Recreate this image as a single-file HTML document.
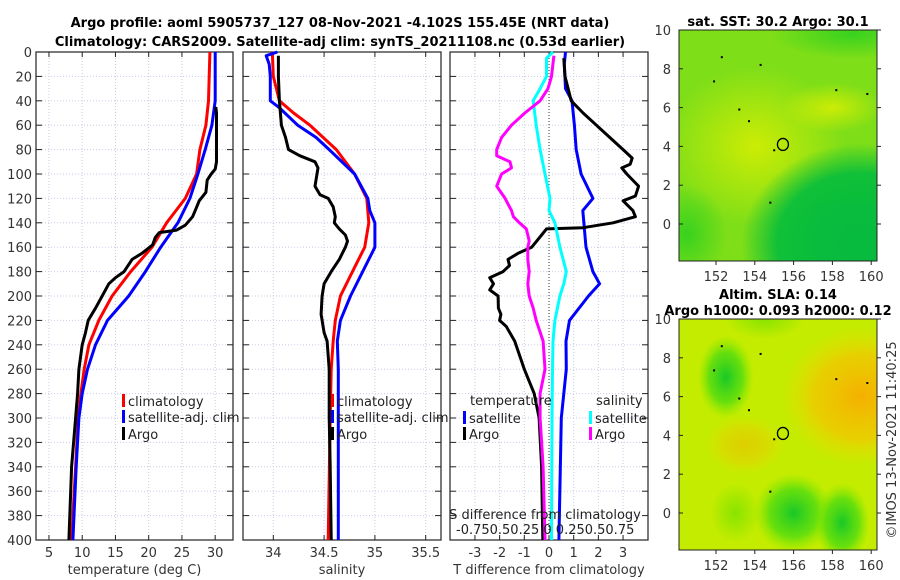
<!DOCTYPE html>
<html><head><meta charset="utf-8"><style>
html,body{margin:0;padding:0;background:#fff;}
svg{display:block;font-family:"DejaVu Sans","Liberation Sans",sans-serif;}
</style></head><body>
<svg id="fig" width="900" height="580" viewBox="0 0 900 580" xmlns="http://www.w3.org/2000/svg">
<defs>
<radialGradient id="g1a" cx="0.5" cy="0.5" r="0.5"><stop offset="0" stop-color="#e0f000" stop-opacity="0.8"/><stop offset="1" stop-color="#e0f000" stop-opacity="0"/></radialGradient>
<radialGradient id="g1b" cx="0.5" cy="0.5" r="0.5"><stop offset="0" stop-color="#00b840"/><stop offset="0.7" stop-color="#10c038"/><stop offset="1" stop-color="#10c038" stop-opacity="0"/></radialGradient>
<radialGradient id="g1c" cx="0.5" cy="0.5" r="0.5"><stop offset="0" stop-color="#30d020" stop-opacity="0.9"/><stop offset="1" stop-color="#30d020" stop-opacity="0"/></radialGradient>
<radialGradient id="g2o" cx="0.5" cy="0.5" r="0.5"><stop offset="0" stop-color="#f5b000"/><stop offset="0.6" stop-color="#f0c800" stop-opacity="0.8"/><stop offset="1" stop-color="#e8e000" stop-opacity="0"/></radialGradient>
<radialGradient id="g2g" cx="0.5" cy="0.5" r="0.5"><stop offset="0" stop-color="#18c828"/><stop offset="0.6" stop-color="#50dc10" stop-opacity="0.8"/><stop offset="1" stop-color="#80e800" stop-opacity="0"/></radialGradient>
<radialGradient id="g2y" cx="0.5" cy="0.5" r="0.5"><stop offset="0" stop-color="#88e400"/><stop offset="1" stop-color="#88e400" stop-opacity="0"/></radialGradient>
</defs>
<text x="340" y="27" text-anchor="middle" font-size="13" font-weight="bold">Argo profile: aoml 5905737_127 08-Nov-2021 -4.102S 155.45E (NRT data)</text>
<text x="340" y="46" text-anchor="middle" font-size="13" font-weight="bold">Climatology: CARS2009. Satellite-adj clim: synTS_20211108.nc (0.53d earlier)</text>
<g id="p1"></g><g id="p2"></g><g id="p3"></g>
<g id="maps"></g>
</svg>
<script>
// ---------- data ----------
const depthTicks = [0,20,40,60,80,100,120,140,160,180,200,220,240,260,280,300,320,340,360,380,400];
const tTicks = [5,10,15,20,25,30];
const sTicks = [34,34.5,35,35.5];
const dTicks = [-3,-2,-1,0,1,2,3];

const tClimDepth = [0,20,40,60,80,100,120,140,160,180,200,220,240,260,280,300,340,400];
const tClimVal   = [29.2,29.1,29.0,28.6,27.7,27.2,25.5,22.7,20.5,17.3,14.5,12.5,11.0,10.3,9.8,9.4,9.0,8.4];
const tSatDepth  = [0,20,40,60,80,100,120,130,140,160,180,200,220,240,260,280,300,340,400];
const tSatVal    = [30.0,30.0,30.0,29.5,28.5,27.4,26.2,25.3,24.4,21.8,19.5,17.0,13.8,12.0,10.8,10.0,9.5,9.1,8.6];
const tArgoDepth = [45,50,70,90,96,100,105,115,122,130,135,142,146,148,152,158,165,170,180,185,190,200,210,220,230,240,260,280,300,340,400];
const tArgoVal   = [30.1,30.2,30.2,30.2,30.0,29.4,28.8,28.6,27.6,27.0,26.6,25.5,24.2,21.6,21.0,20.6,19.0,17.5,16.3,15.0,14.0,13.0,12.0,10.9,10.5,10.0,9.5,9.3,9.0,8.4,8.0];

const sClimDepth = [0,20,40,50,60,80,100,120,140,160,180,200,220,237,260,300,400];
const sClimVal   = [33.99,34.0,34.06,34.2,34.36,34.62,34.8,34.92,34.94,34.9,34.78,34.66,34.61,34.59,34.57,34.56,34.54];
const sSatDepth  = [0,3,10,20,40,45,60,70,80,100,120,130,140,160,180,200,220,237,260,300,400];
const sSatVal    = [34.04,33.93,33.96,33.97,33.97,34.05,34.24,34.42,34.55,34.8,34.93,34.95,35.0,35.0,34.88,34.76,34.66,34.63,34.64,34.64,34.64];
const sArgoDepth = [3,20,40,60,70,80,85,90,95,100,110,117,120,127,135,140,145,150,155,160,170,180,190,200,215,230,237,260,280,300,340,400];
const sArgoVal   = [34.05,34.05,34.06,34.08,34.12,34.15,34.26,34.41,34.44,34.43,34.41,34.46,34.54,34.59,34.61,34.6,34.65,34.71,34.73,34.71,34.65,34.57,34.5,34.48,34.47,34.5,34.53,34.55,34.55,34.55,34.56,34.57];

const dtArgoDepth = [5,20,40,50,60,70,80,87,92,95,100,110,118,122,130,135,140,144,145,150,155,160,165,170,175,180,185,190,195,200,210,215,220,225,237,260,280,300,340,400];
const dtArgoVal   = [0.6,0.65,0.9,1.38,1.92,2.46,3.0,3.37,3.29,2.95,3.15,3.63,3.5,3.0,3.4,3.5,2.6,1.38,-0.1,-0.3,-0.5,-0.7,-1.25,-1.66,-1.6,-1.86,-2.4,-2.25,-2.4,-2.06,-2.05,-1.95,-2.0,-1.73,-1.39,-1.0,-0.6,-0.4,-0.3,-0.25];
const dtSatDepth  = [0,10,30,40,60,80,100,120,130,160,180,190,200,220,237,260,300,400];
const dtSatVal    = [0.67,0.62,0.67,0.93,1.03,1.1,1.3,1.78,1.37,1.5,1.78,2.05,1.6,0.83,0.69,0.7,0.5,0.4];
const dsSatDepth  = [0,5,20,30,40,60,80,100,120,130,140,160,180,190,200,220,237,260,300,400];
const dsSatVal    = [0.04,-0.025,-0.025,-0.09,-0.16,-0.13,-0.09,-0.04,0.01,0.0,0.06,0.11,0.175,0.15,0.11,0.06,0.04,0.035,0.03,0.025];
const dsArgoDepth = [3,20,30,40,50,60,70,80,85,90,95,100,110,120,130,135,140,145,150,155,160,170,180,190,200,210,220,237,260,280,300,340,400];
const dsArgoVal   = [0.05,0.025,-0.01,-0.09,-0.245,-0.38,-0.48,-0.53,-0.53,-0.395,-0.38,-0.48,-0.53,-0.445,-0.38,-0.36,-0.3,-0.23,-0.215,-0.2,-0.215,-0.215,-0.2,-0.215,-0.2,-0.16,-0.13,-0.06,-0.04,-0.09,-0.09,-0.06,-0.04];

const lonTicks = [152,154,156,158,160];
const latTicks = [0,2,4,6,8,10];
const floatLon = 155.45, floatLat = 4.1;

// ---------- helpers ----------
const NS = "http://www.w3.org/2000/svg";
function mk(parent, tag, attrs, text){
  const e = document.createElementNS(NS, tag);
  for (const k in attrs) e.setAttribute(k, attrs[k]);
  if (text !== undefined) e.textContent = text;
  parent.appendChild(e);
  return e;
}
const Y0 = 52, Y1 = 540;
const yD = d => Y0 + d * (Y1 - Y0) / 400;
function xScale(x0, x1, v0, v1){ return v => x0 + (v - v0) * (x1 - x0) / (v1 - v0); }

function panel(g, x0, x1, xs, xticks, xlabel, showY){
  for (const t of xticks){
    const x = xs(t);
    const gl = mk(g,'line',{x1:x,y1:Y0,x2:x,y2:Y1,stroke:'#c6cde6','stroke-width':1,'stroke-dasharray':'1,2'});
    
    
    const tk = mk(g,'line',{x1:x,y1:Y1,x2:x,y2:Y1-5,stroke:'#222'});
    
    
    mk(g,'line',{x1:x,y1:Y0,x2:x,y2:Y0+5,stroke:'#222'});
    const tl = mk(g,'text',{x:x,y:557,'text-anchor':'middle','font-size':13,fill:'#333'}, String(t));
    
    
  }
  for (const d of depthTicks){
    const y = yD(d);
    if (d>0 && d<400){
      const gl = mk(g,'line',{x1:x0,y1:y,x2:x1,y2:y,stroke:'#c6cde6','stroke-width':1,'stroke-dasharray':'1,2'});
      
      
    }
    mk(g,'line',{x1:x0,y1:y,x2:x0+6,y2:y,stroke:'#222'});
    mk(g,'line',{x1:x1,y1:y,x2:x1-6,y2:y,stroke:'#222'});
    if (showY){
      const yl = mk(g,'text',{x:x0-4,y:y+5,'text-anchor':'end','font-size':13,fill:'#333'}, String(d));
      
      
    }
  }
  const fr = mk(g,'rect',{x:x0,y:Y0,width:x1-x0,height:Y1-Y0,fill:'none',stroke:'#222','stroke-width':1.2});
  
  
  const xl = mk(g,'text',{x:(x0+x1)/2,y:574,'text-anchor':'middle','font-size':13,fill:'#333'}, xlabel);
  
  
}
function series(g, depths, vals, xs, color, name){
  const pts = depths.map((d,i)=> xs(vals[i]).toFixed(1)+','+yD(d).toFixed(1)).join(' ');
  const p = mk(g,'polyline',{points:pts,fill:'none',stroke:color,'stroke-width':3,'stroke-linejoin':'round'});
  
  
}
function legend(g, x, y, color, label){
  const m = mk(g,'rect',{x:x-2,y:y-7,width:3,height:13,fill:color});
  
  
  const t = mk(g,'text',{x:x+4,y:y+5,'font-size':13,fill:'#222'}, label);
  
  
}

// ---------- panel 1 ----------
const g1 = document.getElementById('p1');


const xT = xScale(36, 233, 3.05, 32.68);
panel(g1, 36, 233, xT, tTicks, 'temperature (deg C)', true);
series(g1, tClimDepth, tClimVal, xT, '#ff0000', 'temperature-climatology-line');
series(g1, tSatDepth, tSatVal, xT, '#0000ff', 'temperature-satellite-line');
series(g1, tArgoDepth, tArgoVal, xT, '#000000', 'temperature-argo-line');
legend(g1, 124, 401, '#ff0000', 'climatology');
legend(g1, 124, 417, '#0000ff', 'satellite-adj. clim');
legend(g1, 124, 434, '#000000', 'Argo');

// ---------- panel 2 ----------
const g2 = document.getElementById('p2');


const xS = xScale(273.3, 425.7, 34, 35.5);
panel(g2, 243, 441, xS, sTicks, 'salinity', false);
series(g2, sClimDepth, sClimVal, xS, '#ff0000', 'salinity-climatology-line');
series(g2, sSatDepth, sSatVal, xS, '#0000ff', 'salinity-satellite-line');
series(g2, sArgoDepth, sArgoVal, xS, '#000000', 'salinity-argo-line');
legend(g2, 333, 401, '#ff0000', 'climatology');
legend(g2, 333, 417, '#0000ff', 'satellite-adj. clim');
legend(g2, 333, 434, '#000000', 'Argo');

// ---------- panel 3 ----------
const g3 = document.getElementById('p3');


const xD = xScale(450, 648, -4.01, 4.01);
const xSD = v => xD(v * 4);
panel(g3, 450, 648, xD, dTicks, 'T difference from climatology', false);
const zl = mk(g3,'line',{x1:xD(0),y1:Y0,x2:xD(0),y2:Y1,stroke:'#333','stroke-dasharray':'1,2'});


series(g3, dtSatDepth, dtSatVal, xD, '#0000ff', 'temp-diff-satellite-line');
series(g3, dtArgoDepth, dtArgoVal, xD, '#000000', 'temp-diff-argo-line');
series(g3, dsSatDepth, dsSatVal, xSD, '#00ffff', 'sal-diff-satellite-line');
series(g3, dsArgoDepth, dsArgoVal, xSD, '#ff00ff', 'sal-diff-argo-line');
let t;
t = mk(g3,'text',{x:470,y:405,'font-size':13,fill:'#222'},'temperature');
 
t = mk(g3,'text',{x:596,y:405,'font-size':13,fill:'#222'},'salinity');
 
legend(g3, 465, 418, '#0000ff', 'satellite');
legend(g3, 465, 434, '#000000', 'Argo');
legend(g3, 591, 418, '#00ffff', 'satellite');
legend(g3, 591, 434, '#ff00ff', 'Argo');
t = mk(g3,'text',{x:545,y:519,'text-anchor':'middle','font-size':13,fill:'#222'},'S difference from climatology');
 
t = mk(g3,'text',{x:456,y:534,'font-size':13,fill:'#222'},'-0.750.50.25 0  0.250.50.75');
 

// ---------- maps ----------
const gm = document.getElementById('maps');
const MX0 = 679, MX1 = 877;
const lonX = v => 716 + (v - 152) * 19.4;
function mapAxes(top, title1, title2, bg, name){
  const latY = v => top + (10 - v) * 19.4;
  const g = mk(gm,'g',{});
  
  
  const clipId = name + '-clip';
  const cp = mk(g,'clipPath',{id:clipId});
  mk(cp,'rect',{x:MX0,y:top,width:MX1-MX0,height:231});
  const inner = mk(g,'g',{'clip-path':'url(#'+clipId+')'});
  bg(inner, latY);
  for (const v of latTicks){
    const y = latY(v);
    mk(g,'line',{x1:MX0,y1:y,x2:MX0+4,y2:y,stroke:'#222'});
    mk(g,'line',{x1:MX1,y1:y,x2:MX1+4,y2:y,stroke:'#222'});
    const tl = mk(g,'text',{x:MX0-8,y:y+5,'text-anchor':'end','font-size':13,fill:'#333'}, String(v));
    
    
  }
  for (const v of lonTicks){
    const x = lonX(v);
    mk(g,'line',{x1:x,y1:top+231,x2:x,y2:top+235,stroke:'#222'});
    const tl = mk(g,'text',{x:x,y:top+251,'text-anchor':'middle','font-size':13,fill:'#333'}, String(v));
    
    
  }
  mk(g,'rect',{x:MX0,y:top,width:MX1-MX0,height:231,fill:'none',stroke:'#222'});
  const c = mk(g,'ellipse',{cx:lonX(floatLon),cy:latY(floatLat),rx:5.5,ry:6,fill:'none',stroke:'#000','stroke-width':1.3});
  
  
  [[151.9,7.35],[152.3,8.6],[154.3,8.2],[153.2,5.9],[153.7,5.3],[158.2,6.9],[159.8,6.7],[154.8,1.1],[155,3.8]].forEach(p=>{
    const r = mk(g,'rect',{x:lonX(p[0])-1,y:latY(p[1])-1,width:2,height:2,fill:'#000'});
    
    
  });
  if (title1){
    const tt = mk(g,'text',{x:778,y:top-20,'text-anchor':'middle','font-size':13,'font-weight':'bold'}, title1);
     
  }
  const tt2 = mk(g,'text',{x:778,y:top-4,'text-anchor':'middle','font-size':13,'font-weight':'bold'}, title2);
   
}
mapAxes(30, null, 'sat. SST: 30.2 Argo: 30.1', (g, latY)=>{
  mk(g,'rect',{x:MX0,y:30,width:200,height:231,fill:'#7ede18'});
  mk(g,'ellipse',{cx:lonX(154),cy:latY(4),rx:90,ry:80,fill:'url(#g1a)'});
  mk(g,'ellipse',{cx:lonX(158),cy:latY(6),rx:50,ry:25,fill:'url(#g1a)'});
  mk(g,'ellipse',{cx:lonX(159),cy:latY(9.8),rx:80,ry:25,fill:'url(#g1c)'});
  mk(g,'ellipse',{cx:lonX(150.5),cy:latY(-0.5),rx:40,ry:50,fill:'url(#g1c)'});
  mk(g,'ellipse',{cx:lonX(159.5),cy:latY(-1),rx:120,ry:100,fill:'url(#g1b)'});
  mk(g,'rect',{x:lonX(157),y:latY(1),width:120,height:100,fill:'#0cbc40',opacity:0.6});
}, 'sst-map');
mapAxes(319, 'Altim. SLA: 0.14', 'Argo h1000: 0.093 h2000: 0.12', (g, latY)=>{
  mk(g,'rect',{x:MX0,y:319,width:200,height:231,fill:'#c4ec00'});
  mk(g,'ellipse',{cx:lonX(159.5),cy:latY(6),rx:80,ry:70,fill:'url(#g2o)'});
  mk(g,'ellipse',{cx:lonX(153.5),cy:latY(3.5),rx:40,ry:30,fill:'url(#g2o)',opacity:0.5});
  mk(g,'ellipse',{cx:lonX(152.5),cy:latY(7),rx:28,ry:42,fill:'url(#g2g)'});
  mk(g,'ellipse',{cx:lonX(156),cy:latY(0),rx:40,ry:40,fill:'url(#g2g)'});
  mk(g,'ellipse',{cx:lonX(158.5),cy:latY(-0.5),rx:28,ry:40,fill:'url(#g2g)'});
  mk(g,'ellipse',{cx:lonX(153),cy:latY(0),rx:25,ry:30,fill:'url(#g2y)'});
  mk(g,'ellipse',{cx:lonX(154.5),cy:latY(10),rx:40,ry:20,fill:'url(#g2y)'});
}, 'sla-map');
t = mk(gm,'text',{x:0,y:0,'text-anchor':'middle','font-size':13,fill:'#333',transform:'translate(896,440) rotate(-90)'},'©IMOS 13-Nov-2021 11:40:25');
 
</script>
</body></html>
